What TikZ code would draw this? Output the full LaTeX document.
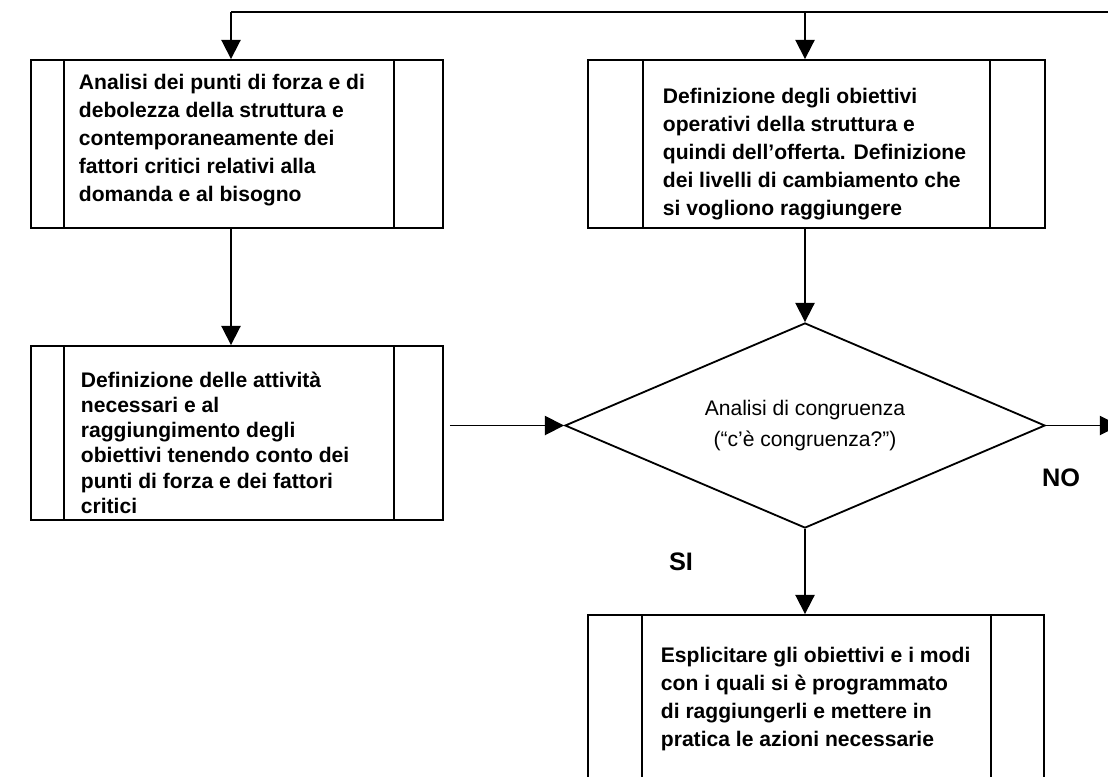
\documentclass[tikz,border=0pt]{standalone}
\usepackage{fontspec}
\setmainfont{Liberation Sans}
\usetikzlibrary{arrows.meta, shapes.geometric, calc}

\begin{document}
\begin{tikzpicture}[x=0.025cm, y=-0.025cm, line width=1.3pt,
  >={Triangle[length=0.48cm, width=0.48cm]},
  procbox/.style={draw, minimum height=4.2cm, inner sep=0pt},
  boxtext/.style={anchor=north west, align=left, inner sep=0pt,
                  font=\bfseries\fontsize{15}{20}\selectfont},
  answer/.style={font=\bfseries\fontsize{18}{22}\selectfont, inner sep=0pt}]
  \useasboundingbox (0,0) rectangle (1108,776);
  % process boxes and the test
  \node[procbox, minimum width=10.3cm] (b1) at (237,144) {};
  \node[procbox, minimum width=11.425cm] (b2) at (816.5,144) {};
  \node[procbox, minimum width=10.3cm, minimum height=4.35cm] (b3) at (237,433) {};
  \node[procbox, minimum width=11.4cm] (b4) at (816,699) {};
  \node[draw, diamond, minimum width=12cm, minimum height=5.125cm, inner sep=0pt] (dia) at (805,425.5) {};
  % side strips
  \foreach \b/\l/\r in {b1/34/50, b2/56/56, b3/34/50, b4/55/54} {
    \draw ($(\b.north west)+(\l,0)$) -- ($(\b.south west)+(\l,0)$);
    \draw ($(\b.north east)-(\r,0)$) -- ($(\b.south east)-(\r,0)$);
  }
  % texts
  \node[boxtext] (t1) at (78,73) {Analisi dei punti di forza e di\\
    debolezza della struttura e\\ contemporaneamente dei\\
    fattori critici relativi alla\\ domanda e al bisogno};
  \node[boxtext] (t2) at (662,87) {Definizione degli obiettivi\\
    operativi della struttura e\\ quindi dell’offerta. Definizione\\
    dei livelli di cambiamento che\\ si vogliono raggiungere};
  \node[boxtext, font=\bfseries\fontsize{15}{17.9}\selectfont] (t3) at (80,371) {Definizione delle attività\\
    necessari e al\\ raggiungimento degli\\ obiettivi tenendo conto dei\\
    punti di forza e dei fattori\\ critici};
  \node[boxtext] (t4) at (660,646) {Esplicitare gli obiettivi e i modi\\
    con i quali si è programmato\\ di raggiungerli e mettere in\\
    pratica le azioni necessarie};
  \node[align=center, anchor=north, inner sep=0pt, font=\fontsize{15}{22.2}\selectfont]
    (q) at (805,399) {Analisi di congruenza\\(“c’è congruenza?”)};
  % connectors
  \coordinate (loopR) at (1119,12);
  \coordinate (tl) at (231,12);
  \coordinate (tm) at (805,12);
  \coordinate (noR) at (1119,425.5);
  \draw (loopR) -- (tl);
  \draw[->] (tl) -- (tl |- b1.north);
  \draw[->] (tm) -- (tm |- b2.north);
  \draw[->] (b1.south -| tl) -- (b3.north -| tl);
  \draw[->] (b2.south -| dia.north) -- (dia.north);
  \draw[->, shorten <=0.15cm] (b3.east |- dia.west) -- (dia.west);
  \draw[->] (dia.south) -- (b4.north -| dia.south);
  \draw[->] (dia.east) -- (noR);
  \node[answer] (no) at (1061,478) {NO};
  \node[answer] (si) at (681,562) {SI};
\end{tikzpicture}
\end{document}
